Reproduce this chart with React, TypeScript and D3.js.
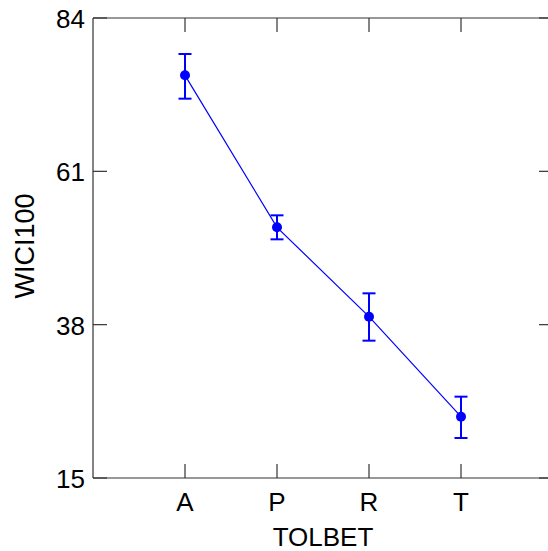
import React from "react";
import * as d3 from "d3";

const categories = ["A", "P", "R", "T"];
const means = [75.4, 52.6, 39.2, 24.2];
const upper = [78.6, 54.4, 42.7, 27.2];
const lower = [71.9, 50.8, 35.6, 21.0];
const yTicks = [15, 38, 61, 84];
const xLabel = "TOLBET";
const yLabel = "WICI100";

const W = 548, H = 551;
const left = 93, right = 553, top = 18, bottom = 478;

export default function App() {
  const x = d3.scaleLinear().domain([0, categories.length + 1]).range([left, right]);
  const y = d3.scaleLinear().domain([15, 84]).range([bottom, top]);
  const line = d3.line<number>().x((_, i) => x(i + 1)).y((d) => y(d));
  const color = "#0000ff";
  const axis = "#333";
  const font = "'Liberation Sans', Arial, sans-serif";
  const fs = 26;
  const tickLen = 14;
  const cap = 6.5;
  return (
    <svg width={W} height={H} style={{ position: "absolute", left: 0, top: 0 }}>
      <rect x={0} y={0} width={W} height={H} fill="#fff" />
      <g stroke={axis} strokeWidth={1.2} fill="none">
        <line x1={left} y1={top} x2={right} y2={top} />
        <line x1={left} y1={bottom} x2={right} y2={bottom} />
        <line x1={left} y1={top} x2={left} y2={bottom} />
        <line x1={right} y1={top} x2={right} y2={bottom} />
        {yTicks.map((t) => (
          <g key={t}>
            <line x1={left} x2={left + tickLen} y1={y(t)} y2={y(t)} />
            <line x1={right} x2={right - tickLen} y1={y(t)} y2={y(t)} />
          </g>
        ))}
        {categories.map((c, i) => (
          <g key={c}>
            <line x1={x(i + 1)} x2={x(i + 1)} y1={bottom} y2={bottom - tickLen} />
            <line x1={x(i + 1)} x2={x(i + 1)} y1={top} y2={top + tickLen} />
          </g>
        ))}
      </g>
      <g fontFamily={font} fontSize={fs} fill="#000">
        {yTicks.map((t) => (
          <text key={t} x={left - 8} y={y(t) + 10} textAnchor="end">{t}</text>
        ))}
        {categories.map((c, i) => (
          <text key={c} x={x(i + 1)} y={bottom + 33} textAnchor="middle">{c}</text>
        ))}
        <text x={(left + right) / 2} y={546} textAnchor="middle">{xLabel}</text>
        <text transform={`translate(34,${(top + bottom) / 2 - 2}) rotate(-90)`} textAnchor="middle" fontSize={27}>{yLabel}</text>
      </g>
      <path d={line(means) || ""} fill="none" stroke={color} strokeWidth={1.2} />
      {means.map((m, i) => (
        <g key={i} stroke={color} strokeWidth={2}>
          <line x1={x(i + 1)} x2={x(i + 1)} y1={y(upper[i])} y2={y(lower[i])} />
          <line x1={x(i + 1) - cap} x2={x(i + 1) + cap} y1={y(upper[i])} y2={y(upper[i])} />
          <line x1={x(i + 1) - cap} x2={x(i + 1) + cap} y1={y(lower[i])} y2={y(lower[i])} />
          <circle cx={x(i + 1)} cy={y(m)} r={5} fill={color} stroke="none" />
        </g>
      ))}
    </svg>
  );
}
